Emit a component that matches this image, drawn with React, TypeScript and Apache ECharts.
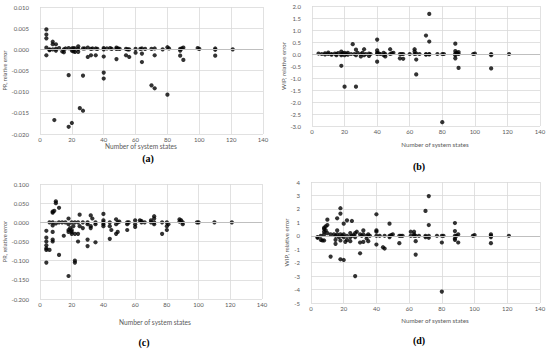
import React, { useEffect, useRef } from "react";
import * as echarts from "echarts";

const pointsA: number[][] = [
  [4, 0.0047], [4, 0.0035], [4, 0.0026], [4, 0.0004], [4, -0.0014],
  [6, 0.0], [6, -0.0002], [8, 0.0018], [8, 0.0012], [8, 0.0], [9, -0.0167],
  [10, 0.0012], [10, 0.0001], [10, -0.0003], [12, 0.0003], [14, -0.0005], [15, -0.0007], [15, 0.0], [16, 0.0002],
  [18, 0.0003], [18, -0.0061], [18, -0.0183], [20, 0.0002], [20, -0.0003], [20, -0.0174],
  [21, -0.0005], [21, 0.0003], [22, 0.0002], [22, -0.0006], [24, 0.0007], [24, -0.0006], [24, 0.0001],
  [25, -0.0139], [27, -0.0145], [27, -0.0062], [27, 0.0002], [28, 0.0002], [30, -0.0018], [30, 0.0004],
  [32, -0.0014], [32, 0.0001], [33, 0.0002], [35, -0.0014], [35, 0.0002], [36, 0.0001],
  [40, 0.0003], [40, 0.0], [40, -0.0017], [40, -0.0055], [40, -0.0069],
  [42, 0.0002], [44, 0.0003], [45, 0.0001], [48, 0.0004], [48, -0.0023], [48, 0.0001], [49, 0.0002], [50, 0.0001],
  [54, 0.0001], [54, -0.0014], [55, 0.0], [56, -0.0018], [56, 0.0],
  [60, 0.0001], [60, -0.0008], [63, 0.0001], [64, 0.0002], [64, -0.001], [64, -0.003], [66, 0.0001],
  [70, 0.0001], [70, -0.0085], [72, 0.0002], [72, -0.0014], [72, -0.0092], [77, 0.0],
  [80, 0.0005], [80, -0.0107], [81, 0.0002],
  [88, 0.0001], [88, -0.0003], [88, -0.0015], [89, 0.0002], [90, 0.0004], [90, -0.0025],
  [99, 0.0003], [100, 0.0001], [110, 0.0002], [110, -0.0001], [110, -0.0015], [121, 0.0],
];

const pointsB: number[][] = [
  [4, 0.02], [6, 0.0], [8, 0.03], [8, -0.02], [10, 0.06], [10, 0.0], [12, 0.0], [12, -0.03], [14, 0.02],
  [15, 0.0], [15, -0.05], [16, 0.04], [18, 0.1], [18, 0.0], [18, -0.05], [18, -0.49], [19, 0.03],
  [20, -1.36], [20, 0.05], [20, -0.05], [21, 0.0], [22, 0.05], [22, -0.03], [24, 0.0], [25, 0.41], [26, 0.0],
  [27, 0.18], [27, -0.05], [27, -1.36], [28, 0.05], [30, -0.1], [30, 0.0], [31, 0.05], [32, 0.2], [32, -0.05],
  [33, 0.0], [35, 0.02], [35, -0.08], [36, 0.0],
  [40, 0.6], [40, 0.15], [40, 0.05], [40, 0.0], [40, -0.32], [41, 0.03], [42, 0.0], [44, -0.05], [44, 0.05],
  [45, 0.0], [45, -0.1], [48, 0.2], [48, 0.0], [49, 0.03], [50, 0.05],
  [54, 0.0], [54, -0.18], [55, 0.0], [56, -0.2], [56, 0.0], [60, 0.0],
  [63, 0.2], [63, 0.1], [63, 0.0], [64, -0.23], [64, -0.85], [64, 0.02], [66, 0.0],
  [70, 0.77], [70, 0.0], [70, -0.03], [72, 1.67], [72, 0.52], [72, 0.0], [72, -0.02], [77, 0.0],
  [80, 0.0], [80, -2.84], [81, 0.0],
  [88, 0.43], [88, 0.12], [88, 0.02], [88, -0.05], [88, -0.18], [89, 0.05], [90, 0.08], [90, 0.0], [90, -0.58],
  [99, 0.0], [100, 0.02], [110, 0.0], [110, -0.05], [110, -0.6], [121, 0.0],
];

const pointsC: number[][] = [
  [4, -0.022], [4, -0.04], [4, -0.05], [4, -0.06], [4, -0.068], [4, -0.072], [4, -0.105],
  [6, -0.072], [6, 0.0], [8, 0.025], [8, 0.028], [8, 0.0], [8, -0.008], [8, -0.025], [8, -0.045], [8, -0.05],
  [9, 0.03], [10, 0.055], [10, 0.05], [10, -0.003], [12, 0.038], [12, -0.085], [12, 0.0], [14, 0.0],
  [15, -0.035], [16, 0.0], [18, 0.01], [18, -0.005], [18, -0.02], [18, -0.025], [18, -0.14], [19, -0.015],
  [20, 0.0], [20, -0.02], [20, -0.025], [20, -0.03], [21, -0.01], [22, -0.1], [22, -0.105], [22, -0.03], [22, 0.0],
  [24, -0.03], [24, -0.05], [24, 0.0], [25, 0.02], [25, -0.01], [27, -0.015], [27, 0.0],
  [30, -0.045], [30, -0.062], [30, 0.0], [30, -0.005], [32, 0.018], [32, -0.01], [32, -0.015], [33, 0.01],
  [35, -0.052], [35, 0.0], [35, -0.005],
  [40, 0.022], [40, 0.0], [40, -0.005], [40, -0.01], [40, 0.005], [44, -0.043], [44, 0.0], [44, -0.01], [45, -0.02],
  [48, 0.008], [48, -0.005], [48, -0.03], [49, -0.025], [49, 0.0], [50, 0.002],
  [55, -0.02], [55, 0.0], [55, -0.005], [56, 0.0], [60, 0.005], [60, -0.005], [60, -0.012],
  [63, 0.005], [64, 0.0], [64, 0.003], [66, 0.0], [70, 0.005], [70, 0.0],
  [72, 0.016], [72, 0.01], [72, 0.0], [72, -0.005], [77, -0.03], [77, 0.0],
  [80, 0.0], [80, -0.01], [80, -0.02], [81, -0.005], [88, 0.008], [88, 0.002], [89, 0.005],
  [90, 0.0], [90, -0.005], [99, 0.0], [100, 0.0], [110, 0.0], [121, 0.0],
];

const pointsD: number[][] = [
  [4, -0.1], [4, -0.15], [6, -0.3], [6, 0.0], [7, -0.35],
  [8, 0.6], [8, 0.5], [8, 0.3], [8, 0.1], [8, -0.35], [9, 0.7], [9, 0.4], [10, 1.2], [10, 0.8], [10, 0.2],
  [12, -1.55], [12, 0.1], [14, 0.1], [15, -0.6], [15, 0.0], [15, -0.3], [16, 1.3], [16, 0.4], [16, 0.1], [17, -0.1],
  [18, 2.05], [18, 1.65], [18, 0.1], [18, -0.35], [18, -1.75], [19, 0.0],
  [20, 0.9], [20, -1.8], [20, -0.1], [20, 0.1], [21, -0.45], [22, 1.15], [22, -0.3], [22, 0.0],
  [24, 0.2], [24, -0.4], [24, -0.1], [25, 1.1], [25, 0.0], [26, 0.05], [27, -3.0], [27, 0.2], [27, -0.1], [28, 0.3],
  [30, -1.3], [30, -0.5], [30, 0.1], [31, 0.0], [32, 0.4], [32, -0.45], [32, 0.1], [34, -0.2], [34, 0.0],
  [35, 0.1], [35, -0.4], [36, 0.0],
  [40, 1.6], [40, 0.4], [40, 0.3], [40, 0.0], [40, -0.65], [42, 0.0], [44, -0.85], [45, -0.95], [45, 0.0],
  [48, 0.9], [48, 0.0], [48, -0.1], [49, 0.05], [50, 0.1], [54, -0.55], [54, 0.0], [55, 0.0], [56, 0.0],
  [61, 0.3], [61, 0.0], [63, 0.3], [63, 0.1], [63, 0.0], [64, -1.4], [64, -0.4], [64, 0.0], [66, 0.0],
  [70, 1.85], [70, 0.0], [70, -0.1], [72, 2.95], [72, 0.8], [72, 0.0], [72, -0.15], [77, 0.0],
  [80, 0.0], [80, -0.5], [80, -4.15], [81, 0.0],
  [88, 0.95], [88, 0.35], [88, 0.0], [88, -0.2], [88, -0.3], [89, 0.0], [90, 0.1], [90, -0.5],
  [99, 0.0], [100, 0.05], [110, 0.1], [110, 0.0], [110, -0.1], [110, -0.55], [121, 0.0],
];

const panelLabels = ["(a)", "(b)", "(c)", "(d)"];
const yTitles = ["PR, relative error", "WIP, relative error", "PR, relative error", "WIP, relative error"];
const yMins = [-0.02, -3, -0.2, -5];
const yMaxs = [0.01, 2, 0.1, 4];
const yIntervals = [0.005, 0.5, 0.05, 1];
const yDecimals = [3, 1, 3, 0];
const xTitle = "Number of system states";

export default function App() {
  const ref = useRef<HTMLDivElement>(null);
  useEffect(() => {
    const chart = echarts.init(ref.current!, null, { renderer: "svg" });
    const font = "Lato, 'Open Sans', sans-serif";
    const grids = [
      { left: 40, top: 7, width: 223, height: 127 },
      { left: 312, top: 6, width: 228, height: 120 },
      { left: 40, top: 184, width: 222, height: 115 },
      { left: 311, top: 182, width: 229, height: 121 },
    ];
    const labelPos = [
      [148, 158],
      [419, 166],
      [144, 342],
      [419, 340],
    ];
    const xTitlePos = [
      [141, 145.5],
      [435, 144.5],
      [155, 321.5],
      [435, 320.5],
    ];
    const xTitleSize = [6.6, 6.2, 6.6, 6.2];
    const yTitleSize = [5.4, 6, 5.6, 6];
    const yNameGap = [26, 23, 26, 22];
    const data = [pointsA, pointsB, pointsC, pointsD];
    const graphics: any[] = [];
    panelLabels.forEach((t, i) => {
      graphics.push({
        type: "text",
        x: labelPos[i][0],
        y: labelPos[i][1],
        style: {
          text: t,
          align: "center",
          verticalAlign: "middle",
          fontSize: 10,
          fontWeight: "bold",
          fontFamily: "'Liberation Serif', 'DejaVu Serif', serif",
          fill: "#000000",
        },
      });
      graphics.push({
        type: "text",
        x: xTitlePos[i][0],
        y: xTitlePos[i][1],
        style: {
          text: xTitle,
          align: "center",
          verticalAlign: "middle",
          fontSize: xTitleSize[i],
          fontFamily: font,
          fill: "#595959",
        },
      });
    });
    const option: any = {
      animation: false,
      backgroundColor: "#ffffff",
      grid: grids.map((g) => ({ ...g, containLabel: false })),
      xAxis: grids.map((_, i) => ({
        type: "value",
        gridIndex: i,
        min: 0,
        max: 140,
        interval: 20,
        axisLine: { show: false },
        axisTick: { show: false },
        axisLabel: { fontSize: 6, color: "#595959", fontFamily: font, margin: 2 },
        splitLine: { show: true, lineStyle: { color: "#d9d9d9", width: 0.8 } },
      })),
      yAxis: grids.map((_, i) => ({
        type: "value",
        gridIndex: i,
        min: yMins[i],
        max: yMaxs[i],
        interval: yIntervals[i],
        name: yTitles[i],
        nameLocation: "middle",
        nameGap: yNameGap[i],
        nameTextStyle: { fontSize: yTitleSize[i], color: "#595959", fontFamily: font },
        axisLine: { show: false },
        axisTick: { show: false },
        axisLabel: {
          fontSize: 6,
          color: "#595959",
          fontFamily: font,
          margin: 11,
          formatter: (v: number) => {
            const s = v.toFixed(yDecimals[i]);
            return Number(s) === 0 ? (0).toFixed(yDecimals[i]) : s;
          },
        },
        splitLine: { show: true, lineStyle: { color: "#d9d9d9", width: 0.8 } },
      })),
      series: data.map((pts, i) => ({
        type: "scatter",
        xAxisIndex: i,
        yAxisIndex: i,
        data: pts,
        symbol: "circle",
        symbolSize: 4.2,
        itemStyle: { color: "#000000" },
        markLine: {
          silent: true,
          symbol: "none",
          label: { show: false },
          lineStyle: { color: "#bfbfbf", width: 1, type: "solid" },
          data: [{ yAxis: 0 }],
        },
        z: 3,
      })),
      graphic: graphics,
    };
    chart.setOption(option);
    return () => chart.dispose();
  }, []);
  return (
    <div
      ref={ref}
      style={{ position: "absolute", left: 0, top: 0, width: 550, height: 352 }}
    />
  );
}
